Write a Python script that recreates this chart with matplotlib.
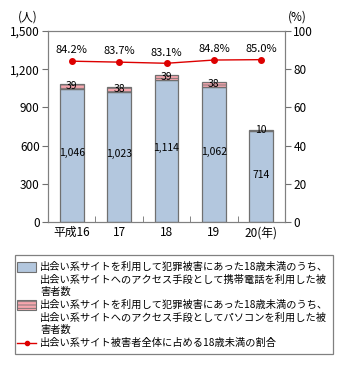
import matplotlib
matplotlib.use("Agg")
import matplotlib.pyplot as plt
from matplotlib.patches import Rectangle
from matplotlib.lines import Line2D

plt.rcParams['font.family'] = ['Noto Sans CJK JP', 'DejaVu Sans']
plt.rcParams['hatch.linewidth'] = 0.6

categories = ['平成16', '17', '18', '19', '20(年)']
mobile = [1046, 1023, 1114, 1062, 714]
pc = [39, 38, 39, 38, 10]
ratio = [84.2, 83.7, 83.1, 84.8, 85.0]

legend_labels = [
    ['出会い系サイトを利用して犯罪被害にあった18歳未満のうち、',
     '出会い系サイトへのアクセス手段として携帯電話を利用した被',
     '害者数'],
    ['出会い系サイトを利用して犯罪被害にあった18歳未満のうち、',
     '出会い系サイトへのアクセス手段としてパソコンを利用した被',
     '害者数'],
    ['出会い系サイト被害者全体に占める18歳未満の割合'],
]

W, H = 339, 365
fig = plt.figure(figsize=(W/100, H/100), dpi=100)
ax = fig.add_axes([48/W, 1-222/H, 237/W, 191/H])
x = list(range(len(categories)))
blue = '#b3c7de'
pink = '#f7a6ae'
ax.bar(x, mobile, width=0.5, color=blue, edgecolor='#707070', linewidth=0.9, zorder=2)
ax.bar(x, pc, bottom=mobile, width=0.5, color=pink, edgecolor='#707070', linewidth=0.9,
       hatch='-----', zorder=2)
for xi, m, p in zip(x, mobile, pc):
    ax.text(xi, m * 0.52, f'{m:,}', ha='center', va='center', fontsize=7.5, zorder=4)
    ax.text(xi, m + p / 2 + 5, f'{p}', ha='center', va='center', fontsize=7.5, zorder=4)

ax.set_xlim(-0.5, 4.5)
ax.set_ylim(0, 1500)
ax.set_yticks([0, 300, 600, 900, 1200, 1500])
ax.set_yticklabels(['0', '300', '600', '900', '1,200', '1,500'], fontsize=8.5)
ax.set_xticks(x)
ax.set_xticklabels(categories, fontsize=8.5)
ax.tick_params(axis='x', length=0, pad=3)
ax.set_xticks([0.5, 1.5, 2.5, 3.5], minor=True)
ax.tick_params(axis='x', which='minor', direction='in', length=4, color='#707070')
ax.tick_params(axis='y', direction='out', length=4, color='#707070', pad=2)
for s in ax.spines.values():
    s.set_color('#808080')

ax2 = ax.twinx()
ax2.set_ylim(0, 100)
ax2.set_yticks([0, 20, 40, 60, 80, 100])
ax2.set_yticklabels(['0', '20', '40', '60', '80', '100'], fontsize=8.5)
ax2.tick_params(axis='y', direction='out', length=4, color='#707070', pad=2)
for s in ax2.spines.values():
    s.set_color('#808080')
ax2.plot(x, ratio, color='#dd0000', marker='o', markersize=4, linewidth=1.0, zorder=5)
for xi, r in zip(x, ratio):
    ax2.text(xi, r + 5.6, f'{r:.1f}%', ha='center', va='center', fontsize=8)

fig.text(28/W, 1-17/H, '(人)', ha='center', va='center', fontsize=8.5)
fig.text(297/W, 1-17/H, '(%)', ha='center', va='center', fontsize=8.5)

# legend box drawn manually
def fy(py):
    return 1 - py / H

fig.patches.append(Rectangle((15/W, fy(354)), 318/W, 99/H, transform=fig.transFigure,
                             facecolor='white', edgecolor='#808080', linewidth=0.9))
fig.patches.append(Rectangle((17/W, fy(272)), 19/W, 10/H, transform=fig.transFigure,
                             facecolor=blue, edgecolor='#707070', linewidth=0.8))
fig.patches.append(Rectangle((17/W, fy(310)), 19/W, 10/H, transform=fig.transFigure,
                             facecolor=pink, edgecolor='#707070', linewidth=0.8, hatch='-----'))
fig.lines.append(Line2D([17/W, 36/W], [fy(343), fy(343)], transform=fig.transFigure,
                        color='#dd0000', linewidth=1.0))
fig.lines.append(Line2D([26.5/W], [fy(343)], transform=fig.transFigure,
                        color='#dd0000', marker='o', markersize=3))
line_y = [[267, 279.5, 292], [305, 317.5, 330], [343]]
for lines, ys in zip(legend_labels, line_y):
    for t, yy in zip(lines, ys):
        fig.text(40/W, fy(yy), t, ha='left', va='center', fontsize=7.35)

fig.savefig('out.png', dpi=100)
